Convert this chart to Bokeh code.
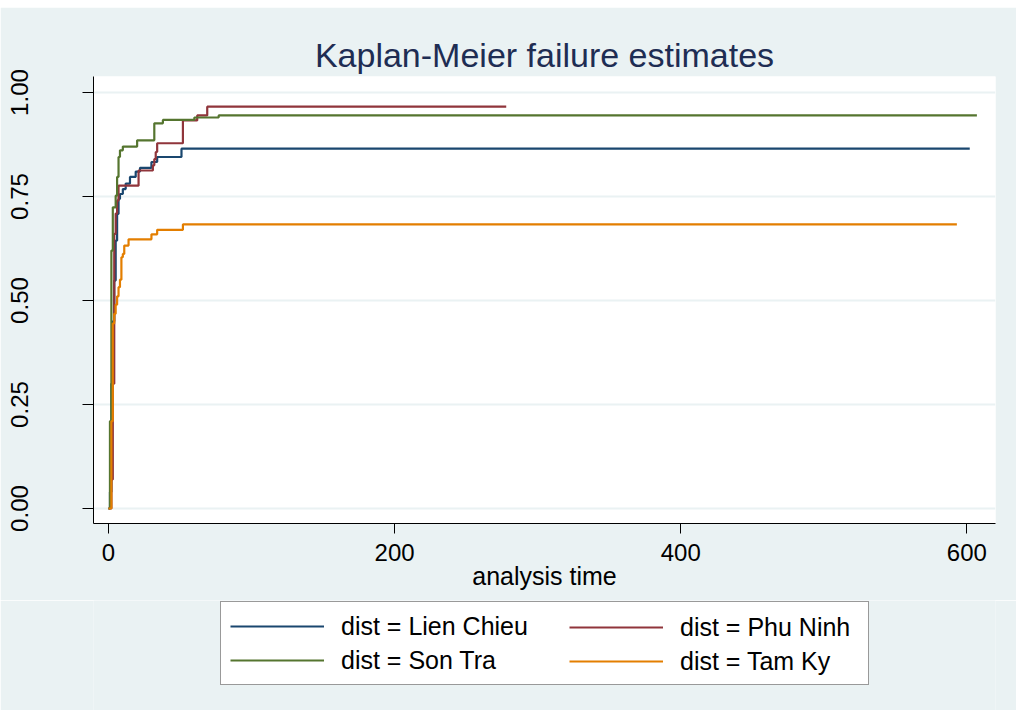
from bokeh.plotting import figure
from bokeh.layouts import column
from bokeh.models import Range1d, FixedTicker, PrintfTickFormatter, Legend, LegendItem
from bokeh.embed import file_html
from bokeh.resources import INLINE

# ---- data ----
lien_chieu_t = [0, 1, 2, 3, 4, 5, 6, 7, 8, 10, 12, 15, 19, 22, 30, 34, 51, 602]
lien_chieu_f = [0.0, 0.04, 0.30, 0.45, 0.548, 0.644, 0.708, 0.744, 0.756, 0.768, 0.781, 0.797, 0.81, 0.819, 0.833, 0.845, 0.865, 0.865]

phu_ninh_t = [0, 2, 3, 4, 5, 6, 7, 21, 31, 32, 33, 34, 52, 62, 69, 278]
phu_ninh_f = [0.0, 0.07, 0.30, 0.66, 0.709, 0.74, 0.776, 0.8125, 0.825, 0.84, 0.857, 0.878, 0.933, 0.945, 0.966, 0.966]

son_tra_t = [0, 1, 2, 3, 5, 6, 7, 8, 10, 20, 32, 38, 60, 77, 607]
son_tra_f = [0.0, 0.21, 0.62, 0.724, 0.752, 0.797, 0.845, 0.861, 0.87, 0.885, 0.926, 0.934, 0.94, 0.945, 0.945]

tam_ky_t = [0, 2, 3, 4, 5, 6, 7, 8, 9, 10, 11, 14, 30, 34, 52, 593]
tam_ky_f = [0.0, 0.21, 0.445, 0.468, 0.49, 0.51, 0.532, 0.55, 0.604, 0.612, 0.632, 0.647, 0.659, 0.67, 0.683, 0.683]

x_ticks = [0, 200, 400, 600]
y_ticks = [0.0, 0.25, 0.5, 0.75, 1.0]

labels = ["dist = Lien Chieu", "dist = Phu Ninh", "dist = Son Tra", "dist = Tam Ky"]
colors = ["#1A476F", "#90353B", "#55752F", "#E37E00"]

FONT = "Liberation Sans"
BG = "#EAF2F3"

p = figure(width=1016, height=593, output_backend="svg", toolbar_location=None,
           x_range=Range1d(-10.5, 620), y_range=Range1d(-0.036, 1.0385),
           title="Kaplan-Meier failure estimates",
           min_border_left=93, min_border_right=21, min_border_top=69, min_border_bottom=77)
p.margin = (7, 0, 0, 0)

p.background_fill_color = "white"
p.border_fill_color = BG
p.outline_line_color = None

p.title.align = "center"
p.title.text_font = FONT
p.title.text_font_size = "34px"
p.title.text_font_style = "normal"
p.title.text_color = "#1E2D53"
p.title.standoff = 6

series = [(lien_chieu_t, lien_chieu_f), (phu_ninh_t, phu_ninh_f),
          (son_tra_t, son_tra_f), (tam_ky_t, tam_ky_f)]
for (t, f), c in zip(series, colors):
    p.step(t, f, mode="after", line_color=c, line_width=2.2)

# axes
p.xaxis.ticker = FixedTicker(ticks=x_ticks)
p.yaxis.ticker = FixedTicker(ticks=y_ticks)
p.yaxis.formatter = PrintfTickFormatter(format="%.2f")
p.yaxis.major_label_orientation = "vertical"
for ax in (p.xaxis, p.yaxis):
    ax.axis_line_color = "black"
    ax.axis_line_width = 1
    ax.major_tick_line_color = "black"
    ax.major_tick_in = 0
    ax.major_tick_out = 10
    ax.minor_tick_line_color = None
    ax.major_label_text_font = FONT
    ax.major_label_text_font_size = "24px"
    ax.major_label_text_color = "black"
p.yaxis.major_tick_out = 11
p.yaxis.major_label_standoff = 54
p.xaxis.major_label_standoff = 10
p.xaxis.axis_label = "analysis time"
p.xaxis.axis_label_text_font = FONT
p.xaxis.axis_label_text_font_size = "25px"
p.xaxis.axis_label_text_font_style = "normal"
p.xaxis.axis_label_text_color = "black"
p.xaxis.axis_label_standoff = -2

p.xgrid.grid_line_color = None
p.ygrid.grid_line_color = BG
p.ygrid.grid_line_width = 2

# ---- legend strip below the chart ----
q = figure(width=1016, height=110, output_backend="svg", toolbar_location=None,
           x_axis_type=None, y_axis_type=None,
           x_range=Range1d(0, 1), y_range=Range1d(0, 1),
           min_border_left=0, min_border_right=0, min_border_top=0, min_border_bottom=0)
q.background_fill_color = BG
q.border_fill_color = BG
q.outline_line_color = None
q.xgrid.grid_line_color = None
q.ygrid.grid_line_color = None

nan = float("nan")
keys = [q.line(x=[nan], y=[nan], line_color=c, line_width=2.2) for c in colors]
items = [LegendItem(label=lab, renderers=[r]) for lab, r in zip(labels, keys)]

common = dict(label_text_font=FONT, label_text_font_size="25px", label_text_color="black",
              glyph_width=94, glyph_height=30, label_height=30,
              label_standoff=17, spacing=4, padding=9, margin=0)

left_col = Legend(items=[items[0], items[2]], location=(127, 25), label_width=518,
                  border_line_color="#333333", border_line_width=1,
                  background_fill_color="white", background_fill_alpha=1.0, **common)
right_col = Legend(items=[items[1], items[3]], location=(467, 25),
                   border_line_color="white", border_line_alpha=0.0,
                   background_fill_alpha=0.0, **common)
q.add_layout(left_col, "center")
q.add_layout(right_col, "center")

layout = column(p, q, spacing=0)
open("out.html", "w").write(file_html(layout, INLINE))
